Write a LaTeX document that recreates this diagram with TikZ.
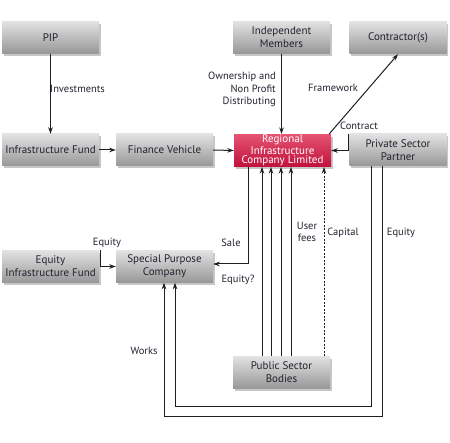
\documentclass[tikz,border=0pt]{standalone}
\usepackage{fontspec}
\setmainfont{PT Sans}
\usetikzlibrary{arrows.meta,shadows}
\definecolor{txt}{HTML}{22222F}
\definecolor{ln}{HTML}{1E1E1E}
\definecolor{boxtop}{HTML}{E2E2E2}
\definecolor{boxbot}{HTML}{979797}
\definecolor{redtop}{HTML}{E65472}
\definecolor{redbot}{HTML}{C0103C}
\tikzset{
  box/.style={rectangle, minimum width=97pt, minimum height=32pt, inner sep=1pt,
    top color=boxtop, bottom color=boxbot, text=txt, align=center,
    font=\fontsize{11}{13}\selectfont,
    drop shadow={shadow xshift=1.5pt, shadow yshift=-2.5pt, opacity=0.22, fill=black}},
  redbox/.style={box, top color=redtop, bottom color=redbot, text=white,
    font=\fontsize{11}{9.5}\selectfont},
  arr/.style={draw=ln, line width=1pt, -{Stealth[length=6.5pt,width=4.5pt]}},
  lbl/.style={text=txt, font=\fontsize{10.5}{12.5}\selectfont, inner sep=0pt},
}
\begin{document}
\begin{tikzpicture}[x=1pt,y=-1pt]
\useasboundingbox (0,0) rectangle (450,443);
% boxes
\node[box] (PIP) at (50.5,37.5) {PIP};
\node[box] (IM) at (281.5,37.5) {Independent\\Members};
\node[box] (CON) at (398,38) {Contractor(s)};
\node[box] (IF) at (50.5,150) {Infrastructure Fund};
\node[box] (FV) at (164.5,150) {Finance Vehicle};
\node[redbox] (RIC) at (282.5,150.5) {Regional\\Infrastructure\\Company Limited};
\node[box] (PSP) at (398,150) {Private Sector\\Partner};
\node[box] (EIF) at (50.5,266.5) {Equity\\Infrastructure Fund};
\node[box] (SPC) at (164.5,266.5) {Special Purpose\\Company};
\node[box] (PSB) at (281.5,372.5) {Public Sector\\Bodies};
% helper coordinates
\coordinate (loopIn) at (0,407);
\coordinate (loopOut) at (0,417);
% connectors
\draw[arr] (PIP.south) -- (IF.north);
\draw[arr] (IM.south) -- (IM.south |- RIC.north);
\draw[arr] (IF.east) -- (FV.west);
\draw[arr] (FV.east) -- (RIC.west);
\draw[arr] ([xshift=-2pt]RIC.north east) -- (CON.south);
\draw[arr] ([xshift=-1pt]PSP.north west) |- (RIC.east);
\draw[arr] ([xshift=1pt]EIF.north east) |- (SPC.west);
\draw[arr] ([xshift=15pt]RIC.south west) |- ([yshift=2.5pt]SPC.east);
\foreach \dx in {-19.5,-10.5,-0.5,9.5}{
  \draw[arr] ([xshift=\dx pt]PSB.north) -- ([xshift=\dx pt]PSB.north |- RIC.south);
}
\draw[arr, dash pattern=on 2pt off 1.5pt] ([xshift=42.5pt]PSB.north) -- ([xshift=42.5pt]PSB.north |- RIC.south);
\draw[arr] ([xshift=-27pt]PSP.south) -- ([xshift=-27pt]PSP.south |- loopIn) -| ([xshift=10.5pt]SPC.south);
\draw[arr] ([xshift=-16pt]PSP.south) -- ([xshift=-16pt]PSP.south |- loopOut) -| ([xshift=-0.5pt]SPC.south);
% labels
\node[lbl, anchor=west] (Linv) at (50,89) {Investments};
\node[lbl, anchor=east, align=right] (Lown) at (276,89.5) {Ownership and\\Non Profit\\Distributing};
\node[lbl] (Lfw) at (333,88) {Framework};
\node[lbl] (Lcon) at (359,126) {Contract};
\node[lbl] (Lsale) at (231,243) {Sale};
\node[lbl] (Leq2) at (238,280) {Equity?};
\node[lbl] (Leq1) at (107,243) {Equity};
\node[lbl, align=center] (Luf) at (307,232) {User\\fees};
\node[lbl] (Lcap) at (343,233) {Capital};
\node[lbl] (Leq3) at (401,233) {Equity};
\node[lbl] (Lworks) at (144,351) {Works};
\end{tikzpicture}
\end{document}
